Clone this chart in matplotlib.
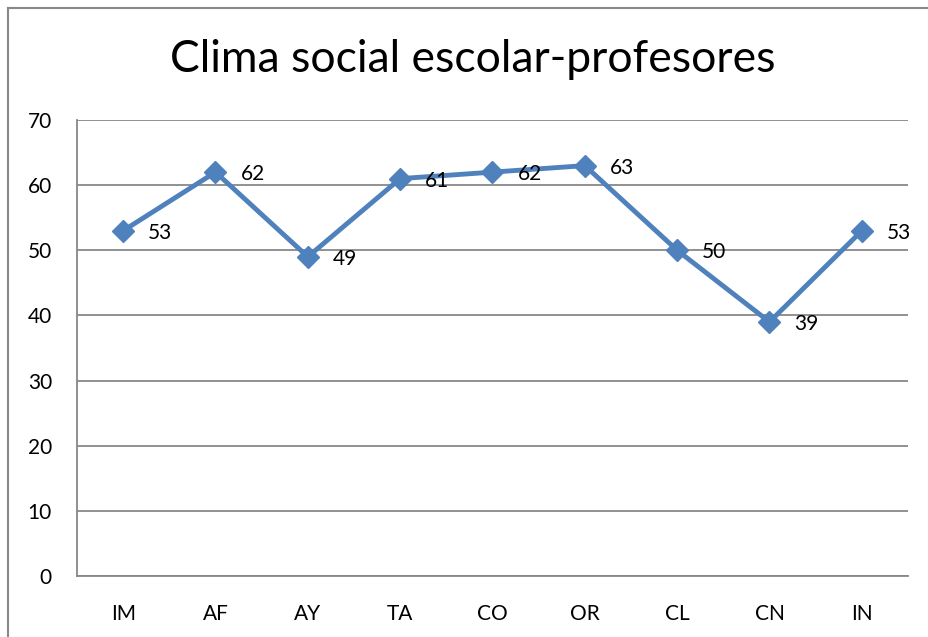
import matplotlib
matplotlib.use("Agg")
import matplotlib.pyplot as plt
from matplotlib.lines import Line2D

categories = ["IM", "AF", "AY", "TA", "CO", "OR", "CL", "CN", "IN"]
values = [53, 62, 49, 61, 62, 63, 50, 39, 53]
yticks = [0, 10, 20, 30, 40, 50, 60, 70]
title = "Clima social escolar-profesores"

plt.rcParams['font.family'] = ['Lato', 'DejaVu Sans']

fig = plt.figure(figsize=(9.29, 6.37), dpi=100)
ax = fig.add_axes([77/929, 1-576/637, (908-77)/929, (576-120)/637])

x = list(range(len(categories)))
ax.plot(x, values, color="#4F81BD", linewidth=3.5, marker="D", markersize=11.5,
        markerfacecolor="#4F81BD", markeredgecolor="#4F81BD", zorder=3, clip_on=False)
for xi, v in zip(x, values):
    ax.annotate(str(v), (xi, v), xytext=(18, -1.5), textcoords="offset points",
                ha="left", va="center", fontsize=15, color="black")

ax.set_xlim(-0.5, len(categories) - 0.5)
ax.set_ylim(0, 70)
ax.set_yticks(yticks)
ax.set_xticks(x)
ax.set_xticklabels(categories)
ax.tick_params(axis="both", length=0, labelsize=15, colors="black")
ax.tick_params(axis="x", pad=20)
ax.tick_params(axis="y", pad=18)
ax.yaxis.grid(True, color="#888888", linewidth=1.3)
ax.set_axisbelow(True)
for s in ["top", "right"]:
    ax.spines[s].set_visible(False)
for s in ["left", "bottom"]:
    ax.spines[s].set_color("#888888")
    ax.spines[s].set_linewidth(1.3)

fig.text(473/929, 1-60/637, title, ha="center", va="center", fontsize=32, color="black")

# outer chart border
fig.add_artist(Line2D([8/929, 8/929], [0, 1-8/637], transform=fig.transFigure, color="#888888", linewidth=1.5))
fig.add_artist(Line2D([8/929, 1], [1-8/637, 1-8/637], transform=fig.transFigure, color="#888888", linewidth=1.5))

fig.savefig("out.png", dpi=100)
